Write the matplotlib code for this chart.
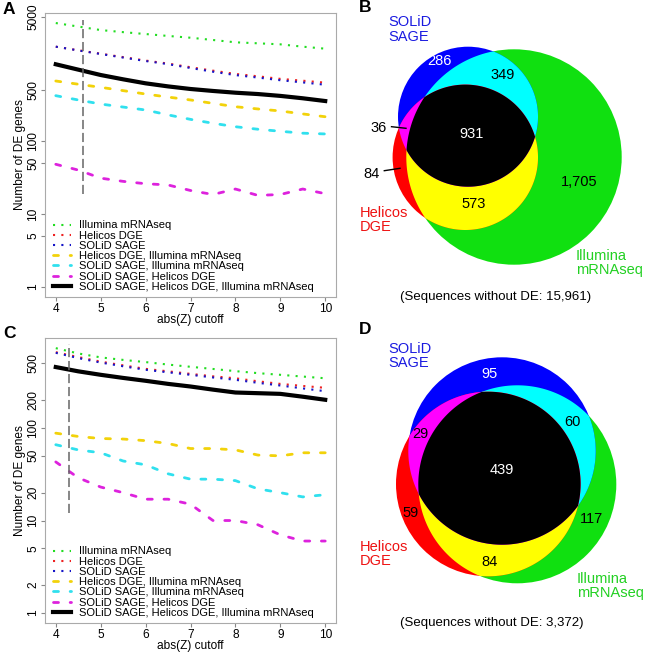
import numpy as np
import matplotlib.pyplot as plt
from matplotlib.patches import Circle, Polygon
from matplotlib.ticker import FixedLocator, FixedFormatter, NullLocator

plt.rcParams['font.family'] = ['Liberation Sans', 'DejaVu Sans']

# ---- data ----
cutoffs = [4, 4.5, 5, 5.5, 6, 6.5, 7, 7.5, 8, 8.5, 9, 9.5, 10]

# panel A
a_illumina = [4130, 3700, 3310, 3100, 2920, 2750, 2600, 2420, 2250, 2180, 2110, 1960, 1840]
a_helicos = [1960, 1750, 1570, 1410, 1265, 1150, 1025, 920, 830, 770, 710, 670, 630]
a_solid = [1960, 1740, 1556, 1390, 1247, 1130, 1000, 890, 800, 740, 680, 635, 590]
a_hel_ill = [664, 600, 544, 490, 440, 400, 365, 328, 295, 275, 258, 235, 215]
a_sol_ill = [418, 365, 321, 292, 266, 228, 198, 175, 157, 145, 136, 128, 125]
a_sol_hel = [48, 40, 31, 28, 26, 25, 21, 18.5, 22, 18, 18.5, 22, 19]
a_all = [1125, 950, 802, 700, 617, 560, 516, 485, 459, 440, 415, 385, 353]
a_cut = 4.6
a_cut_range = [19, 4500]

# panel C
c_illumina = [730, 640, 580, 545, 516, 485, 459, 435, 412, 392, 376, 360, 345]
c_helicos = [660, 585, 522, 476, 436, 410, 385, 362, 345, 320, 300, 285, 272]
c_solid = [650, 570, 510, 465, 426, 400, 376, 352, 332, 308, 288, 268, 250]
c_hel_ill = [88, 81, 77, 76, 73, 68, 60, 60, 58, 51, 50, 54, 54]
c_sol_ill = [66, 58, 54, 44, 40, 32, 28, 28, 27, 22, 20, 18, 19]
c_sol_hel = [43, 29, 23, 20, 17, 17, 15, 10, 10, 9, 7, 6, 6]
c_all = [456, 410, 376, 348, 324, 300, 281, 260, 242, 238, 234, 218, 202]
c_cut = 4.3
c_cut_range = [12, 800]

labels = ["Illumina mRNAseq", "Helicos DGE", "SOLiD SAGE",
          "Helicos DGE, Illumina mRNAseq", "SOLiD SAGE, Illumina mRNAseq",
          "SOLiD SAGE, Helicos DGE", "SOLiD SAGE, Helicos DGE, Illumina mRNAseq"]

a_ticks = [1, 5, 10, 50, 100, 500, 5000]
c_ticks = [1, 2, 5, 10, 20, 50, 100, 200, 500]
x_ticks = [4, 5, 6, 7, 8, 9, 10]

# Venn counts: SOLiD only, SOLiD+Illumina, SOLiD+Helicos, all three,
# Helicos only, Helicos+Illumina, Illumina only
b_counts = ["286", "349", "36", "931", "84", "573", "1,705"]
b_none = "15,961"
d_counts = ["95", "60", "29", "439", "59", "84", "117"]
d_none = "3,372"

line_colors = ['#22dd22', '#ee2222', '#1515c8', '#f2d20a', '#30e0ee', '#dd22dd', 'black']
dot = (0, (1, 3))
dash = (0, (1.8, 4.2))


def line_panel(ax, series, cut, cut_range, ylim, ticks, xlab_y):
    styles = [dot, dot, dot, dash, dash, dash, '-']
    widths = [1.5, 1.5, 1.5, 2.0, 2.0, 2.0, 3.0]
    for s, col, ls, lw, lab in zip(series, line_colors, styles, widths, labels):
        kw = dict(dash_capstyle='round') if ls is dash else {}
        ax.plot(cutoffs, s, color=col, linestyle=ls, linewidth=lw, label=lab, **kw)
    ax.plot([cut, cut], cut_range, color='#666666', linewidth=1.1,
            linestyle=(0, (6, 2.5)))
    ax.set_yscale('log')
    ax.set_xlim(3.76, 10.24)
    ax.set_ylim(*ylim)
    ax.yaxis.set_major_locator(FixedLocator(ticks))
    ax.yaxis.set_major_formatter(FixedFormatter([str(t) for t in ticks]))
    ax.yaxis.set_minor_locator(NullLocator())
    ax.set_xticks(x_ticks)
    for sp in ax.spines.values():
        sp.set_color('#aaaaaa')
    ax.tick_params(axis='both', colors='#888888', labelcolor='black',
                   labelsize=8.6, length=3)
    ax.tick_params(axis='x', pad=1)
    ax.tick_params(axis='y', labelrotation=90, pad=1)
    for t in ax.get_yticklabels():
        t.set_verticalalignment('center')
    ax.set_xlabel("abs(Z) cutoff", fontsize=8.6, va='center')
    ax.xaxis.set_label_coords(0.5, xlab_y)
    ax.set_ylabel("Number of DE genes", fontsize=8.6, labelpad=1)
    ax.legend(loc='lower left', bbox_to_anchor=(0.005, -0.005), frameon=False,
              fontsize=8, handlelength=1.6, handletextpad=0.7,
              labelspacing=0.02, borderaxespad=0.2)


def circle_pts(c, r, n=3000):
    t = np.linspace(0, 2 * np.pi, n, endpoint=False)
    return np.column_stack([c[0] + r * np.cos(t), c[1] + r * np.sin(t)])


def region(circles):
    pts = []
    for i, (c, r) in enumerate(circles):
        p = circle_pts(c, r)
        keep = np.ones(len(p), bool)
        for j, (c2, r2) in enumerate(circles):
            if j != i:
                keep &= ((p - np.array(c2)) ** 2).sum(1) <= r2 ** 2 + 1e-6
        pts.append(p[keep])
    pts = np.vstack(pts)
    m = pts.mean(0)
    order = np.argsort(np.arctan2(pts[:, 1] - m[1], pts[:, 0] - m[0]))
    return pts[order]


def venn(ax, blue, red, green, counts, spots, txtcols, names_xy, none_xy, none_txt):
    for c, r, col in [green + ('#10e010',), blue + ('#0000ff',), red + ('#ff0000',)]:
        ax.add_patch(Circle(c, r, color=col, lw=0))
    for circs, col in [((blue, green), '#00ffff'), ((red, green), '#ffff00'),
                       ((blue, red), '#ff00ff'), ((blue, red, green), 'black')]:
        ax.add_patch(Polygon(region(circs), closed=True, color=col, lw=0))
    for txt, (x, y), tc in zip(counts, spots, txtcols):
        ax.text(x, y, txt, color=tc, fontsize=10.5, ha='center', va='center')
    for txt, (x, y), tc in zip(["SOLiD\nSAGE", "Helicos\nDGE", "Illumina\nmRNAseq"],
                               names_xy, ['#1a1ae0', '#ee1111', '#22d022']):
        ax.text(x, y, txt, color=tc, fontsize=10.5, ha='left', va='center',
                linespacing=1.05)
    ax.text(none_xy[0], none_xy[1], "(Sequences without DE: %s)" % none_txt,
            fontsize=9.5, ha='center', va='center')


fig = plt.figure(figsize=(6.45, 6.53), dpi=100)
W, H = 645, 653

axA = fig.add_axes([45 / W, 1 - 297 / H, 291 / W, 284 / H])
line_panel(axA, [a_illumina, a_helicos, a_solid, a_hel_ill, a_sol_ill, a_sol_hel, a_all],
           a_cut, a_cut_range, (0.73, 5670), a_ticks, -(320 - 297) / 284)

axC = fig.add_axes([45 / W, 1 - 623 / H, 291 / W, 285 / H])
line_panel(axC, [c_illumina, c_helicos, c_solid, c_hel_ill, c_sol_ill, c_sol_hel, c_all],
           c_cut, c_cut_range, (0.78, 940), c_ticks, -(645.5 - 623) / 285)

# overlay in pixel units for the Venn diagrams and panel letters
ov = fig.add_axes([0, 0, 1, 1], zorder=-1)
ov.set_xlim(0, W)
ov.set_ylim(H, 0)
ov.axis('off')

venn(ov, ((468, 116.7), 70), ((465.3, 157.3), 72.7), ((514, 157), 107.7), b_counts,
     [(439.3, 61), (502.7, 75), (378.5, 127.7), (471.7, 134.3), (372, 174),
      (474, 204), (579.3, 181.7)],
     ['white', 'black', 'black', 'white', 'black', 'black', 'black'],
     [(388, 29.5), (359.3, 220), (576, 263)], (495.7, 297), b_none)
ov.plot([391.5, 406], [126.7, 128.3], color='black', lw=1)
ov.plot([384.3, 400], [170.7, 168.3], color='black', lw=1)

venn(ov, ((502, 451), 93.7), ((488.3, 484), 92.3), ((517.3, 484.3), 99), d_counts,
     [(489.3, 374.3), (572.3, 421.7), (420.7, 434.3), (501.7, 470), (410.7, 513.3),
      (489.3, 561.7), (591.7, 519.3)],
     ['white', 'black', 'black', 'white', 'black', 'black', 'black'],
     [(388.3, 356), (359.3, 554), (576.7, 586)], (491.7, 623.3), d_none)

for letter, (x, y) in zip("ABCD", [(3, 10), (359, 8), (3, 333), (359, 330)]):
    ov.text(x, y, letter, fontsize=12.5, fontweight='bold', ha='left', va='center')

fig.savefig("out.png", dpi=100)
